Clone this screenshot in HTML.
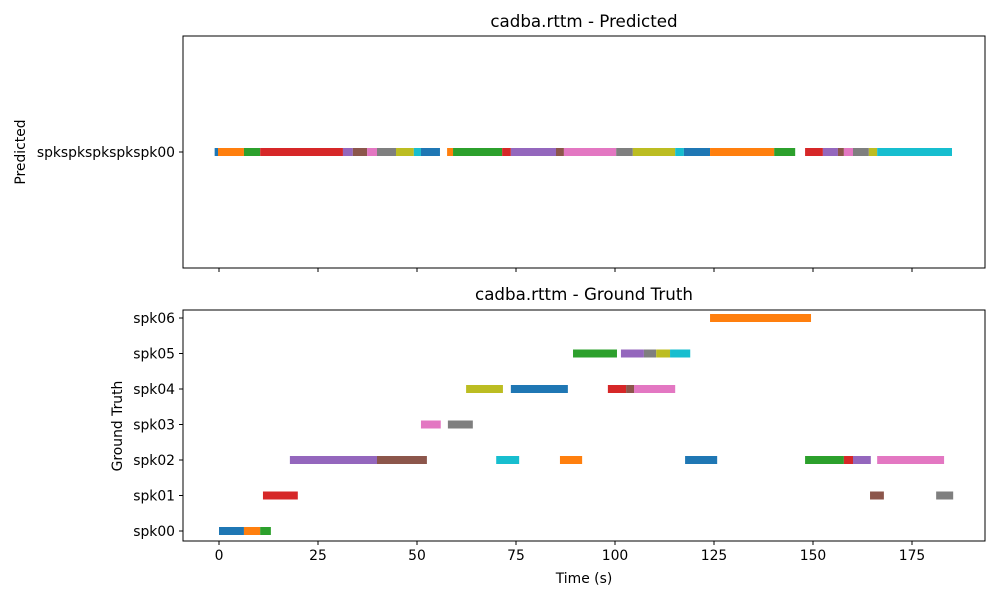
<!DOCTYPE html>
<html><head><meta charset="utf-8"><style>
body{margin:0;background:#fff;}
svg{display:block;font-family:"DejaVu Sans","Liberation Sans",sans-serif;}
</style></head><body>
<svg id="chart" width="1000" height="600" viewBox="0 0 1000 600">
<rect width="1000" height="600" fill="#fff"/>
<g id="topPanel"></g>
<g id="botPanel"></g>
</svg>
<script>
const colors=["#1f77b4","#ff7f0e","#2ca02c","#d62728","#9467bd","#8c564b","#e377c2","#7f7f7f","#bcbd22","#17becf"];
const predStarts=[-1.1,-0.25,6.3,10.4,31.3,33.8,37.4,39.9,44.7,49.2,51.0,57.6,59.1,71.5,73.7,85.1,87.1,100.3,104.5,115.2,117.4,124,140.2,148,152.5,156.3,157.8,160.1,164.1,166.2];
const predEnds=[-0.25,6.3,10.4,31.3,33.8,37.4,39.9,44.7,49.2,51.0,55.8,59.1,71.5,73.7,85.1,87.1,100.3,104.5,115.2,117.4,124,140.2,145.5,152.5,156.3,157.8,160.1,164.1,166.2,185.1];
const gtSpeakers=["spk00","spk01","spk02","spk03","spk04","spk05","spk06"];
const gtSpk=[0,0,0,1,2,2,3,3,4,2,4,2,5,4,4,5,4,5,5,5,2,6,2,2,2,1,2,1];
const gtStarts=[0,6.3,10.4,11.1,17.9,39.9,51,57.8,62.4,70,73.7,86.1,89.4,98.2,102.8,101.5,104.8,107.3,110.4,113.9,117.7,124,148,157.8,160.1,164.4,166.2,181.1];
const gtEnds=[6.3,10.4,13.1,19.9,39.9,52.5,56,64.1,71.7,75.8,88.1,91.7,100.5,102.8,104.8,107.3,115.2,110.4,113.9,119,125.8,149.5,157.8,160.1,164.6,167.9,183.1,185.4];
const gtColor=[0,1,2,3,4,5,6,7,8,9,0,1,2,3,5,4,6,7,8,9,0,1,2,3,4,5,6,7];
const xTicks=[0,25,50,75,100,125,150,175];
const NS="http://www.w3.org/2000/svg";
const L=183,R=985,FS=13.9,TS=16.7;
function x(t){return 219+t*3.96;}
function mk(p,tag,a,txt){const e=document.createElementNS(NS,tag);for(const k in a)e.setAttribute(k,a[k]);if(txt!==undefined)e.textContent=txt;p.appendChild(e);return e;}
const topG=document.getElementById('topPanel'),botG=document.getElementById('botPanel');
predStarts.forEach((s,i)=>{const r=mk(topG,'rect',{x:x(s),y:148,width:x(predEnds[i])-x(s),height:8,fill:colors[i%10]});

});
let t=mk(topG,'rect',{x:L,y:36,width:R-L,height:232,fill:'none',stroke:'#000','stroke-width':1});


mk(topG,'line',{x1:L-4,x2:L,y1:152,y2:152,stroke:'#000'});
t=mk(topG,'text',{x:L-8,y:157,'text-anchor':'end','font-size':FS},'spkspkspkspkspk00');


t=mk(topG,'text',{x:584,y:27,'text-anchor':'middle','font-size':TS},'cadba.rttm - Predicted');


t=mk(topG,'text',{x:25,y:152,'text-anchor':'middle','font-size':FS,transform:'rotate(-90 25 152)'},'Predicted');


xTicks.forEach(v=>{mk(topG,'line',{x1:x(v),x2:x(v),y1:268,y2:272,stroke:'#000'});});
function y(s){return 531-s*35.5;}
gtStarts.forEach((s,i)=>{const r=mk(botG,'rect',{x:x(s),y:y(gtSpk[i])-4,width:x(gtEnds[i])-x(s),height:8,fill:colors[gtColor[i]]});

});
t=mk(botG,'rect',{x:L,y:310,width:R-L,height:231,fill:'none',stroke:'#000','stroke-width':1});


gtSpeakers.forEach((n,i)=>{mk(botG,'line',{x1:L-4,x2:L,y1:y(i),y2:y(i),stroke:'#000'});
const e=mk(botG,'text',{x:L-8,y:y(i)+5,'text-anchor':'end','font-size':FS},n);

});
xTicks.forEach(v=>{mk(botG,'line',{x1:x(v),x2:x(v),y1:541,y2:545,stroke:'#000'});
const e=mk(botG,'text',{x:x(v),y:560,'text-anchor':'middle','font-size':FS},String(v));

});
t=mk(botG,'text',{x:584,y:300,'text-anchor':'middle','font-size':TS},'cadba.rttm - Ground Truth');


t=mk(botG,'text',{x:122,y:426,'text-anchor':'middle','font-size':FS,transform:'rotate(-90 122 426)'},'Ground Truth');


t=mk(botG,'text',{x:584,y:583,'text-anchor':'middle','font-size':FS},'Time (s)');


</script>
</body></html>
